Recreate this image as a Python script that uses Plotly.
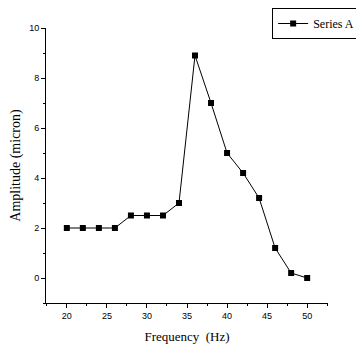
import plotly.graph_objects as go

frequency = [20, 22, 24, 26, 28, 30, 32, 34, 36, 38, 40, 42, 44, 46, 48, 50]
amplitude = [2, 2, 2, 2, 2.5, 2.5, 2.5, 3, 8.9, 7, 5, 4.2, 3.2, 1.2, 0.2, 0]
x_ticks = [20, 25, 30, 35, 40, 45, 50]
y_ticks = [0, 2, 4, 6, 8, 10]

fig = go.Figure()
fig.add_trace(go.Scatter(
    x=frequency, y=amplitude, mode="lines+markers", name="Series A",
    line=dict(color="black", width=1),
    marker=dict(symbol="square", size=6, color="black"),
))

# page body has an 8px default margin, so the figure is slightly smaller
fig.update_layout(
    width=356, height=341,
    margin=dict(l=38, r=36, t=20, b=46, autoexpand=False),
    paper_bgcolor="white", plot_bgcolor="white",
    showlegend=True,
    legend=dict(
        xref="container", yref="container",
        x=0.742, y=1.0, xanchor="left", yanchor="top",
        bordercolor="black", borderwidth=1,
        font=dict(family="Liberation Serif", size=12, color="black"),
        bgcolor="white", itemwidth=30, tracegroupgap=0,
    ),
    font=dict(family="Liberation Sans", color="black"),
)

fig.update_xaxes(
    range=[17.4, 52.6], tickvals=x_ticks, ticks="outside", ticklen=4, tickwidth=1,
    tickcolor="black", showline=True, linecolor="black", linewidth=1, automargin=False,
    showgrid=False, zeroline=False, tickfont=dict(family="Liberation Sans Narrow, Liberation Sans", size=9),
    minor=dict(ticks="outside", ticklen=2, tickcolor="black", dtick=2.5, tick0=17.5, showgrid=False),
    title=dict(text="Frequency  (Hz)", font=dict(family="Liberation Serif", size=13), standoff=12),
)
fig.update_yaxes(
    range=[-1, 10], tickvals=y_ticks, ticks="outside", ticklen=4, tickwidth=1,
    tickcolor="black", showline=True, linecolor="black", linewidth=1, automargin=False,
    showgrid=False, zeroline=False, tickfont=dict(family="Liberation Sans Narrow, Liberation Sans", size=9),
    minor=dict(ticks="outside", ticklen=2, tickcolor="black", dtick=1, tick0=-1, showgrid=False),
    title=dict(text="Amplitude (micron)", font=dict(family="Liberation Serif", size=14), standoff=14),
)

fig.write_html("out.html")
